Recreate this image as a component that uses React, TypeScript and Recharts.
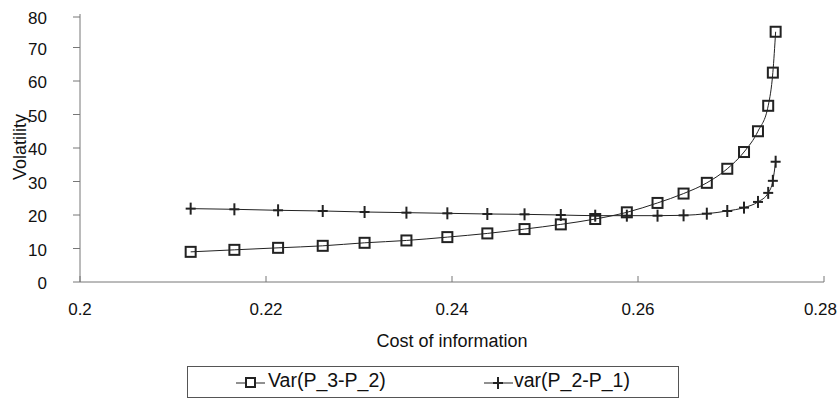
import { LineChart, Line, XAxis, YAxis, Legend, Label } from "recharts";

// cost of information (x) and the two volatility series
const costs = [
  0.2119, 0.2166, 0.2213, 0.2261, 0.2306, 0.2351, 0.2395, 0.2438, 0.2478, 0.2517,
  0.2554, 0.2588, 0.2621, 0.2649, 0.2674, 0.2696, 0.2714, 0.2729, 0.274, 0.2745, 0.2748,
];
const varP3P2 = [
  9.0, 9.6, 10.2, 10.8, 11.7, 12.4, 13.4, 14.5, 15.8, 17.2,
  18.8, 20.8, 23.6, 26.4, 29.6, 33.8, 38.8, 45.0, 52.6, 62.5, 74.7,
];
const varP2P1 = [
  21.9, 21.7, 21.4, 21.2, 20.9, 20.7, 20.5, 20.3, 20.2, 20.0,
  19.8, 19.8, 19.8, 19.9, 20.4, 21.2, 22.2, 23.9, 26.6, 30.2, 35.9,
];
const xTicks = [0.2, 0.22, 0.24, 0.26, 0.28];
const yTicks = [0, 10, 20, 30, 40, 50, 60, 70, 80];

const data = costs.map((c, i) => ({ cost: c, a: varP3P2[i], b: varP2P1[i] }));

const FONT = '"Liberation Sans", Arial, Helvetica, sans-serif';
const INK = "#222";
const AXIS = "#777";

const SquareDot = (props: any) => {
  const { cx, cy } = props;
  if (cx == null || cy == null) return null;
  return <rect x={cx - 5} y={cy - 5} width={10} height={10} fill="none" stroke={INK} strokeWidth={2} />;
};

const PlusDot = (props: any) => {
  const { cx, cy } = props;
  if (cx == null || cy == null) return null;
  return (
    <g stroke={INK} strokeWidth={2}>
      <line x1={cx - 5} y1={cy} x2={cx + 5} y2={cy} />
      <line x1={cx} y1={cy - 6} x2={cx} y2={cy + 6} />
    </g>
  );
};

const XTick = (props: any) => {
  const { x, y, payload, index } = props;
  // last label sits slightly left of its tick, as in the original
  const last = index === xTicks.length - 1;
  return (
    <g>
      <line x1={x} y1={y} x2={x} y2={y - 6} stroke={AXIS} />
      <text
        x={last ? x + 13 : x}
        y={y + 33}
        textAnchor={last ? "end" : "middle"}
        fontSize={17}
        fontFamily={FONT}
        fill="#111"
      >
        {payload.value}
      </text>
    </g>
  );
};

const YTick = (props: any) => {
  const { x, y, payload } = props;
  return (
    <g>
      <line x1={x - 7} y1={y} x2={x} y2={y} stroke={AXIS} />
      <text x={x - 33} y={y + 7} textAnchor="end" fontSize={17} fontFamily={FONT} fill="#111">
        {payload.value}
      </text>
    </g>
  );
};

const LegendBox = () => (
  <div
    style={{
      position: "relative",
      width: 492,
      height: 32,
      boxSizing: "border-box",
      border: "1px solid #555",
      fontFamily: FONT,
      fontSize: 19.5,
      color: "#111",
    }}
  >
    <svg width={492} height={30} style={{ position: "absolute", left: 0, top: 0 }}>
      <line x1={48} y1={16} x2={77} y2={16} stroke={INK} />
      <rect x={58} y={11} width={9} height={9} fill="#fff" stroke={INK} strokeWidth={2} />
      <line x1={296} y1={16} x2={325} y2={16} stroke={INK} />
      <line x1={305} y1={16} x2={315} y2={16} stroke={INK} strokeWidth={2} />
      <line x1={310} y1={10} x2={310} y2={22} stroke={INK} strokeWidth={2} />
    </svg>
    <span style={{ position: "absolute", left: 80, top: 2, whiteSpace: "nowrap" }}>Var(P_3-P_2)</span>
    <span style={{ position: "absolute", left: 326, top: 2, whiteSpace: "nowrap" }}>var(P_2-P_1)</span>
  </div>
);

const YTitle = () => (
  <text
    x={18}
    y={139}
    transform="rotate(-90, 18, 139)"
    textAnchor="middle"
    fontSize={18}
    fontFamily={FONT}
    fill="#111"
  >
    Volatility
  </text>
);

const XTitle = (props: any) => {
  const vb = props.viewBox || {};
  const cx = (vb.x || 0) + (vb.width || 0) / 2;
  return (
    <text x={cx} y={339} textAnchor="middle" fontSize={18} fontFamily={FONT} fill="#111">
      Cost of information
    </text>
  );
};

export default function App() {
  // drop the body margin so the root spans the whole 838x398 window; pad by 8 instead
  return (
    <div
      style={{
        width: 838,
        height: 398,
        boxSizing: "border-box",
        padding: "8px 0 0 8px",
        background: "#fff",
      }}
    >
      <style>{"body{margin:0}"}</style>
      <div style={{ position: "relative", width: 830, height: 390 }}>
        <LineChart
          width={830}
          height={390}
          data={data}
          margin={{ top: 6, right: 14, left: 0, bottom: 0 }}
          style={{ overflow: "visible" }}
        >
          <XAxis
            dataKey="cost"
            type="number"
            domain={[0.2, 0.28]}
            ticks={xTicks}
            height={84}
            tick={<XTick />}
            tickLine={false}
            tickSize={0}
            tickMargin={0}
            axisLine={{ stroke: AXIS }}
          >
            <Label content={<XTitle />} />
          </XAxis>
          <YAxis
            type="number"
            domain={[0, 80]}
            ticks={yTicks}
            width={72}
            tick={<YTick />}
            tickLine={false}
            tickSize={0}
            tickMargin={0}
            axisLine={{ stroke: AXIS }}
          >
            <Label content={<YTitle />} />
          </YAxis>
          <Legend
            verticalAlign="bottom"
            content={<LegendBox />}
            wrapperStyle={{ left: 179, top: 358, width: 492, height: 32, bottom: "auto" }}
          />
          <Line
            type="monotone"
            dataKey="a"
            name="Var(P_3-P_2)"
            stroke={INK}
            strokeWidth={1}
            dot={<SquareDot />}
            isAnimationActive={false}
          />
          <Line
            type="monotone"
            dataKey="b"
            name="var(P_2-P_1)"
            stroke={INK}
            strokeWidth={1}
            dot={<PlusDot />}
            isAnimationActive={false}
          />
        </LineChart>
      </div>
    </div>
  );
}
